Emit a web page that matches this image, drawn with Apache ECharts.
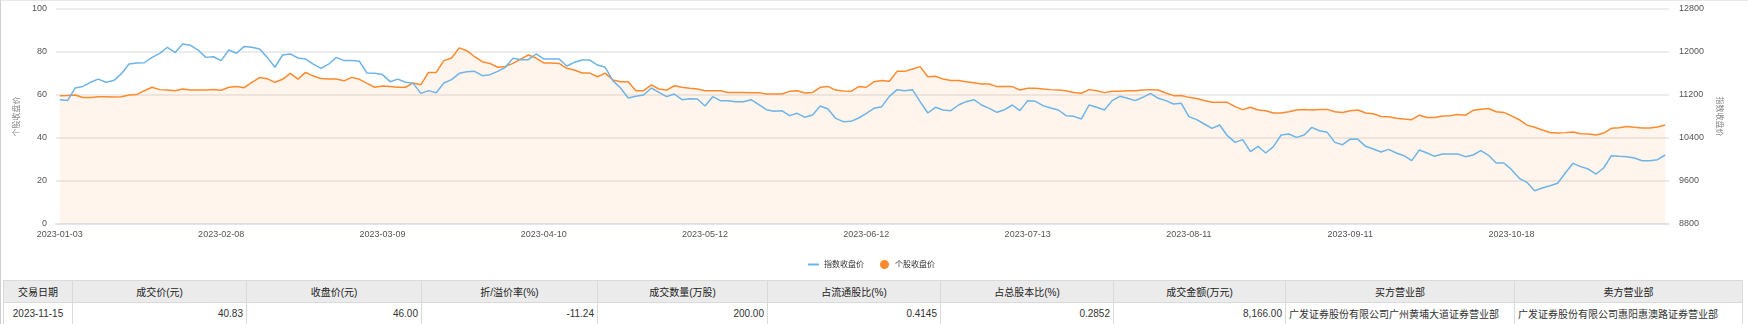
<!DOCTYPE html>
<html><head><meta charset="utf-8">
<script src="https://cdn.jsdelivr.net/npm/echarts@6/dist/echarts.min.js"></script>
<style>
html,body{margin:0;padding:0;background:#fff;}
#wrap{position:relative;width:1747px;height:323px;border-left:1px solid #cfcfcf;border-top:1px solid #e8e8e8;overflow:hidden;}
#chart{position:absolute;left:0;top:-1px;width:1748px;height:280px;}
table{position:absolute;left:2px;top:279px;border-collapse:collapse;table-layout:fixed;font-family:"Liberation Sans","Noto Sans CJK SC",sans-serif;font-size:10px;color:#333;}
td,th{border:1px solid #dadada;height:21px;padding:0 3px;white-space:nowrap;overflow:hidden;}
th{background:#ebebeb;font-weight:normal;text-align:center;color:#222;}
td.c{text-align:center;} td.r{text-align:right;} td.l{text-align:left;}
</style></head>
<body><div id="wrap"><div id="chart"></div>
<table id="tbl"><colgroup id="cols"></colgroup><thead><tr id="hrow"></tr></thead><tbody><tr id="drow"></tr></tbody></table>
</div>
<script>
const dates = [
"2023-01-03","2023-01-04","2023-01-05","2023-01-06","2023-01-09","2023-01-10","2023-01-11","2023-01-12","2023-01-13","2023-01-16","2023-01-17","2023-01-18","2023-01-19","2023-01-20","2023-01-30","2023-01-31",
"2023-02-01","2023-02-02","2023-02-03","2023-02-06","2023-02-07","2023-02-08","2023-02-09","2023-02-10","2023-02-13","2023-02-14","2023-02-15","2023-02-16","2023-02-17","2023-02-20","2023-02-21","2023-02-22","2023-02-23","2023-02-24","2023-02-27","2023-02-28",
"2023-03-01","2023-03-02","2023-03-03","2023-03-06","2023-03-07","2023-03-08","2023-03-09","2023-03-10","2023-03-13","2023-03-14","2023-03-15","2023-03-16","2023-03-17","2023-03-20","2023-03-21","2023-03-22","2023-03-23","2023-03-24","2023-03-27","2023-03-28","2023-03-29","2023-03-30","2023-03-31",
"2023-04-03","2023-04-04","2023-04-06","2023-04-07","2023-04-10","2023-04-11","2023-04-12","2023-04-13","2023-04-14","2023-04-17","2023-04-18","2023-04-19","2023-04-20","2023-04-21","2023-04-24","2023-04-25","2023-04-26","2023-04-27","2023-04-28",
"2023-05-04","2023-05-05","2023-05-08","2023-05-09","2023-05-10","2023-05-11","2023-05-12","2023-05-15","2023-05-16","2023-05-17","2023-05-18","2023-05-19","2023-05-22","2023-05-23","2023-05-24","2023-05-25","2023-05-26","2023-05-29","2023-05-30","2023-05-31",
"2023-06-01","2023-06-02","2023-06-05","2023-06-06","2023-06-07","2023-06-08","2023-06-09","2023-06-12","2023-06-13","2023-06-14","2023-06-15","2023-06-16","2023-06-19","2023-06-20","2023-06-21","2023-06-26","2023-06-27","2023-06-28","2023-06-29","2023-06-30",
"2023-07-03","2023-07-04","2023-07-05","2023-07-06","2023-07-07","2023-07-10","2023-07-11","2023-07-12","2023-07-13","2023-07-14","2023-07-17","2023-07-18","2023-07-19","2023-07-20","2023-07-21","2023-07-24","2023-07-25","2023-07-26","2023-07-27","2023-07-28","2023-07-31",
"2023-08-01","2023-08-02","2023-08-03","2023-08-04","2023-08-07","2023-08-08","2023-08-09","2023-08-10","2023-08-11","2023-08-14","2023-08-15","2023-08-16","2023-08-17","2023-08-18","2023-08-21","2023-08-22","2023-08-23","2023-08-24","2023-08-25","2023-08-28","2023-08-29","2023-08-30","2023-08-31",
"2023-09-01","2023-09-04","2023-09-05","2023-09-06","2023-09-07","2023-09-08","2023-09-11","2023-09-12","2023-09-13","2023-09-14","2023-09-15","2023-09-18","2023-09-19","2023-09-20","2023-09-21","2023-09-22","2023-09-25","2023-09-26","2023-09-27","2023-09-28",
"2023-10-09","2023-10-10","2023-10-11","2023-10-12","2023-10-13","2023-10-16","2023-10-17","2023-10-18","2023-10-19","2023-10-20","2023-10-23","2023-10-24","2023-10-25","2023-10-26","2023-10-27","2023-10-30","2023-10-31",
"2023-11-01","2023-11-02","2023-11-03","2023-11-06","2023-11-07","2023-11-08","2023-11-09","2023-11-10","2023-11-13","2023-11-14","2023-11-15"
];
const indexClose = [
11112,11096,11332,11360,11436,11496,11436,11468,11592,11776,11796,11800,11900,11976,12088,11992,12148,12124,12036,11900,11912,11840,12036,11976,12104,12088,12056,11900,11716,11944,11964,11888,11868,11776,11696,11776,11900,11840,11840,11828,11608,11604,11580,11448,11496,
11436,11417,11231,11281,11243,11423,11485,11603,11634,11640,11560,11578,11640,11715,11882,11857,11857,11963,11870,11870,11870,11740,11808,11851,11851,11758,11715,11467,11330,11144,11175,11200,11330,11250,11169,11219,11113,11132,11126,10995,11169,11095,11095,11076,11076,11113,11020,10927,10896,10909,10816,10859,10785,10828,10995,10940,10766,10704,10710,10772,10859,10952,10983,11175,11299,
11281,11299,11076,10865,10971,10921,10909,11014,11076,11113,11014,10952,10878,10927,11014,10909,11095,11082,11002,10958,10921,10816,10803,10754,11014,10971,10921,11095,11175,11138,11095,11157,11231,11138,11095,11033,11045,10797,10741,10660,10580,10642,10443,10319,10369,10146,10245,10121,10239,10456,10474,10412,10456,10598,10536,10505,10319,10276,10381,10375,10245,10195,10140,10189,10121,
10071,9978,10177,10121,10059,10102,10102,10102,10053,10084,10164,10078,9935,9935,9811,9650,9575,9420,9470,9513,9557,9749,9929,9867,9823,9730,9842,10071,10059,10053,10028,9978,9978,9997,10084
];
const stockClose = [
59.7,59.8,60.0,58.8,58.8,59.2,59.2,59.1,59.2,60.0,60.2,62.0,63.6,62.5,62.3,62.0,62.8,62.3,62.3,62.3,62.6,62.2,63.6,63.9,63.4,65.9,68.1,67.6,65.9,67.3,70.1,67.4,70.5,68.8,67.7,67.4,67.4,66.6,68.2,67.3,65.4,63.6,64.2,63.9,63.6,
63.6,65.6,64.8,70.5,70.5,76.0,77.2,81.9,80.6,77.8,75.5,74.7,72.9,73.3,74.7,76.7,78.6,77.2,74.9,74.9,74.7,72.4,71.6,70.2,70.2,68.5,70.2,67.0,66.2,66.2,62.0,62.0,64.7,62.8,62.3,64.3,63.6,63.1,62.8,62.0,62.0,62.0,61.2,61.2,61.2,61.1,61.1,60.5,60.5,60.5,61.7,62.0,60.9,61.2,63.6,64.0,62.3,61.9,61.7,63.9,63.6,66.2,66.7,66.4,71.0,
71.0,72.1,73.2,68.5,68.7,67.4,66.7,66.7,66.2,65.7,65.1,65.1,63.9,63.9,63.9,62.3,63.1,63.1,62.8,62.5,62.3,62.0,61.2,60.8,62.5,62.0,61.1,61.7,61.7,62.0,62.0,62.3,62.5,62.3,60.9,59.7,59.8,58.9,58.4,57.4,56.6,56.6,56.6,54.6,53.2,54.3,53.0,52.7,51.6,51.6,52.2,53.0,53.2,53.0,53.3,53.3,52.2,51.9,52.7,53.0,51.6,51.3,50.0,49.9,49.2,
48.8,48.5,50.6,49.5,49.5,50.2,50.3,50.9,50.6,52.9,53.4,53.7,52.2,51.9,50.3,48.5,46.0,45.0,43.7,42.6,42.3,42.5,42.8,42.0,41.9,41.4,42.3,44.5,44.8,45.4,45.0,44.7,44.7,45.1,46.0
];
const seriesNames = ["指数收盘价","个股收盘价"];
const leftAxisName = "个股收盘价";
const rightAxisName = "指数收盘价";
const tableHeaders = ["交易日期","成交价(元)","收盘价(元)","折/溢价率(%)","成交数量(万股)","占流通股比(%)","占总股本比(%)","成交金额(万元)","买方营业部","卖方营业部"];
const tableRow = ["2023-11-15","40.83","46.00","-11.24","200.00","0.4145","0.2852","8,166.00","广发证券股份有限公司广州黄埔大道证券营业部","广发证券股份有限公司惠阳惠澳路证券营业部"];
const colWidths = [69,174,175,176,170,173,173,172,229,228];
const cellAlign = ["c","r","r","r","r","r","r","r","l","l"];

// table
const cols = document.getElementById('cols');
colWidths.forEach(w => { const c = document.createElement('col'); c.style.width = w + 'px'; cols.appendChild(c); });
document.getElementById('tbl').style.width = colWidths.reduce((a,b)=>a+b,0) + 'px';
const hrow = document.getElementById('hrow');
tableHeaders.forEach(h => { const th = document.createElement('th'); th.textContent = h; hrow.appendChild(th); });
const drow = document.getElementById('drow');
tableRow.forEach((v,i) => { const td = document.createElement('td'); td.textContent = v; td.className = cellAlign[i]; drow.appendChild(td); });

const FONT = '"Liberation Sans","Noto Sans CJK SC",sans-serif';
const chart = echarts.init(document.getElementById('chart'), null, {renderer:'canvas'});
chart.setOption({
  animation: false,
  textStyle: {fontFamily: FONT},
  grid: {left: 55, right: 80, top: 9, height: 215},
  legend: {
    left: 801, top: 255, itemWidth: 11, itemHeight: 9, itemGap: 16,
    textStyle: {fontSize: 8, color: '#333', fontFamily: FONT},
    data: [
      {name: seriesNames[0], itemStyle: {color: 'rgba(0,0,0,0)', borderWidth: 0}},
      {name: seriesNames[1], icon: 'circle'}
    ]
  },
  xAxis: {
    type: 'category', data: dates, boundaryGap: true,
    axisLine: {lineStyle: {color: '#dfe4ef', width: 2}},
    axisTick: {alignWithLabel: true, interval: 20, length: 5, lineStyle: {color: '#dfe4ef'}},
    axisLabel: {interval: 20, fontSize: 9, color: '#555', margin: 6, fontFamily: FONT},
    splitLine: {show: false}
  },
  yAxis: [{
    type: 'value', min: 0, max: 100, interval: 20,
    name: leftAxisName, nameLocation: 'middle', nameGap: 32, nameRotate: 90,
    nameTextStyle: {fontSize: 8, color: '#888', fontFamily: FONT},
    axisLine: {show: false}, axisTick: {show: false},
    axisLabel: {fontSize: 9, color: '#555', margin: 9, fontFamily: FONT},
    splitLine: {lineStyle: {color: '#e6e6e6', width: 1.5}}
  }, {
    type: 'value', min: 8800, max: 12800, interval: 800, position: 'right',
    name: rightAxisName, nameLocation: 'middle', nameGap: 42, nameRotate: -90,
    nameTextStyle: {fontSize: 8, color: '#888', fontFamily: FONT},
    axisLine: {show: false}, axisTick: {show: false},
    axisLabel: {fontSize: 9, color: '#555', margin: 10, fontFamily: FONT, formatter: v => String(v)},
    splitLine: {show: false}
  }],
  series: [{
    name: seriesNames[0], type: 'line', yAxisIndex: 1, data: indexClose,
    symbol: 'none', showSymbol: false, z: 3,
    itemStyle: {color: '#6fb4e6'},
    lineStyle: {color: '#6fb4e6', width: 1.5}
  }, {
    name: seriesNames[1], type: 'line', yAxisIndex: 0, data: stockClose,
    symbol: 'none', showSymbol: false, z: 2,
    itemStyle: {color: '#fd8b2d'},
    lineStyle: {color: '#fd8b2d', width: 1.5},
    areaStyle: {color: 'rgba(250,140,50,0.12)'}
  }]
});
</script></body></html>
